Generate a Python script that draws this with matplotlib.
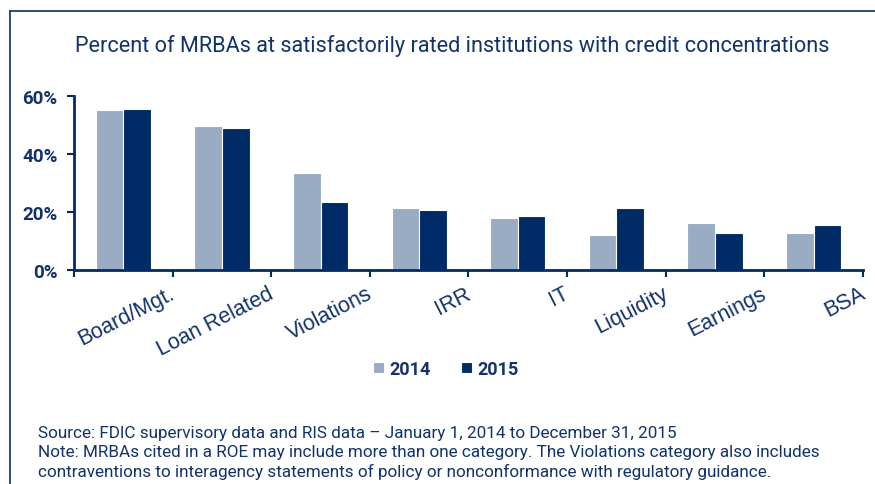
import numpy as np
import matplotlib
matplotlib.use("Agg")
import matplotlib.pyplot as plt
from matplotlib.lines import Line2D
from matplotlib.transforms import ScaledTranslation

# data (percent)
categories = ["Board/Mgt.", "Loan Related", "Violations", "IRR", "IT",
              "Liquidity", "Earnings", "BSA"]
pct_2014 = [55.0, 49.5, 33.3, 21.4, 17.8, 12.1, 16.1, 12.6]
pct_2015 = [55.5, 49.0, 23.6, 20.7, 18.5, 21.3, 12.6, 15.5]
years = ["2014", "2015"]
y_ticks = [0, 20, 40, 60]

title = "Percent of MRBAs at satisfactorily rated institutions with credit concentrations"
footer = ("Source: FDIC supervisory data and RIS data \u2013 January 1, 2014 to December 31, 2015\n"
          "Note: MRBAs cited in a ROE may include more than one category. The Violations category also includes\n"
          "contraventions to interagency statements of policy or nonconformance with regulatory guidance.")

NAVY = "#002b66"
LIGHT = "#9aabc4"
TEXT = "#12326b"
NARROW = ["Roboto", "DejaVu Sans"]
REGULAR = ["Liberation Sans", "DejaVu Sans"]

fig = plt.figure(figsize=(8.75, 4.85), dpi=100)
ax = fig.add_axes([74 / 875, 1 - 271 / 485, 789 / 875, 174 / 485])

x = np.arange(len(categories))
w = 0.28
b1 = ax.bar(x - w / 2, pct_2014, w, color=LIGHT, edgecolor="white", linewidth=0.8)
b2 = ax.bar(x + w / 2, pct_2015, w, color=NAVY, edgecolor="white", linewidth=0.8)

ax.set_xlim(-0.5, len(categories) - 0.5)
ax.set_ylim(0, 60)
for s in ["top", "right"]:
    ax.spines[s].set_visible(False)
for s in ["left", "bottom"]:
    ax.spines[s].set_color(NAVY)
    ax.spines[s].set_linewidth(2.0)

ax.set_yticks(y_ticks)
ax.set_yticklabels([f"{v}%" for v in y_ticks], family=NARROW, fontweight="bold",
                   fontsize=13.5, color=TEXT)
ax.tick_params(axis="y", direction="out", length=5, width=1.5, color=NAVY, pad=7)

# category labels sit at the right-hand boundary of each group
ax.set_xticks(np.arange(-0.5, len(categories)))
ax.set_xticklabels([""] + categories, rotation=27, ha="right", va="top",
                   rotation_mode="anchor", family=REGULAR, fontsize=15.5, color=TEXT)
ax.tick_params(axis="x", direction="out", length=5, width=1.5, color=NAVY, pad=4)
shift = ScaledTranslation(-4 / 100, 0, fig.dpi_scale_trans)
for lab in ax.get_xticklabels():
    lab.set_transform(lab.get_transform() + shift)

t_title = fig.text(452 / 875, 1 - 46 / 485, title, ha="center", va="center",
                   family=NARROW, fontsize=16, color=TEXT)

leg = fig.legend([b1, b2], years, loc="center", bbox_to_anchor=(446 / 875, 1 - 370 / 485),
                 ncol=2, frameon=False, handlelength=0.6, handleheight=0.6,
                 handletextpad=0.3, columnspacing=1.7,
                 prop={"family": NARROW, "weight": "bold", "size": 13})
for t in leg.get_texts():
    t.set_color(TEXT)

t_foot = fig.text(38 / 875, 1 - 426 / 485, footer, ha="left", va="top", family=NARROW,
                  fontsize=12, color=TEXT, linespacing=1.32)

# scale the long texts so they span the same width as in the reference
fig.canvas.draw()
rend = fig.canvas.get_renderer()
for t, target in [(t_title, 755), (t_foot, 785)]:
    wpx = t.get_window_extent(rend).width
    t.set_fontsize(t.get_fontsize() * target / wpx)

# frame line along the left and top edge
fig.add_artist(Line2D([10 / 875, 10 / 875], [0, 1 - 12 / 485], transform=fig.transFigure,
                      color="#1f3a6e", linewidth=1.3))
fig.add_artist(Line2D([10 / 875, 1], [1 - 12 / 485, 1 - 12 / 485], transform=fig.transFigure,
                      color="#1f3a6e", linewidth=1.3))

fig.savefig("out.png", dpi=100)
